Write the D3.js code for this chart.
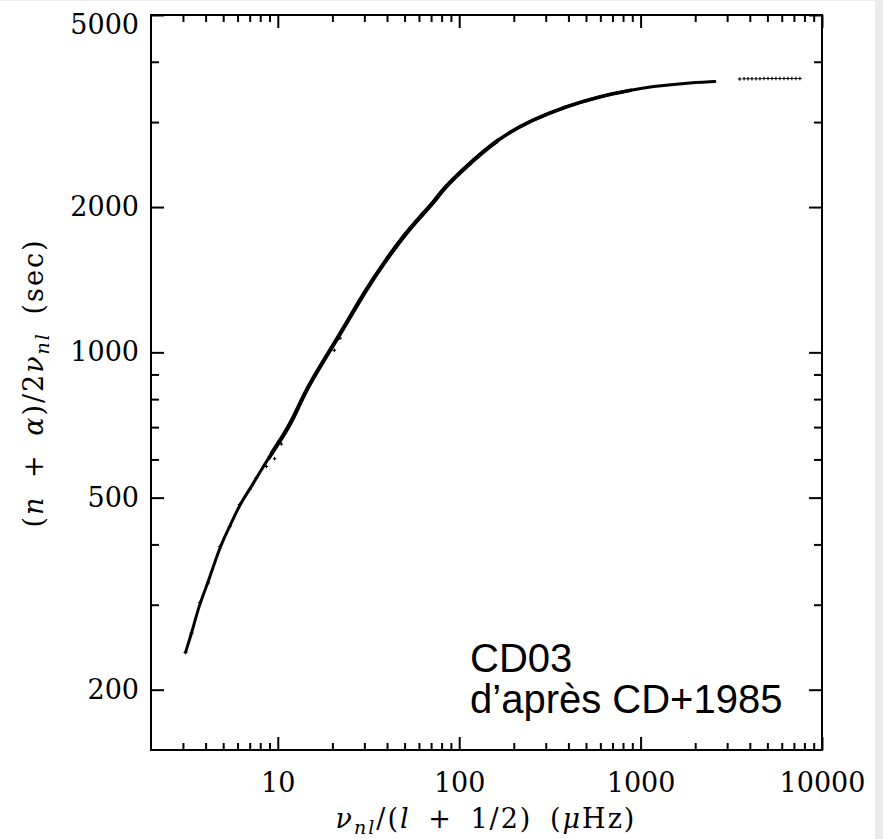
<!DOCTYPE html>
<html>
<head>
<meta charset="utf-8">
<script src="https://cdn.jsdelivr.net/npm/d3@7"></script>
<style>
  html, body { margin: 0; padding: 0; background: #ebebeb; }
  svg { display: block; }
</style>
</head>
<body>
<svg id="chart" width="883" height="839"></svg>
<script>
// ---- data ----
const curveX = [3.10, 3.35, 3.72, 4.13, 4.79, 5.44, 6.17, 7.00, 7.62, 9.01, 10.67, 12.1, 14.3, 18.5, 22.8, 30.6, 39.5, 50.8, 60.1, 74.3, 80.7, 109, 165, 252, 385, 586, 893, 1150, 1755, 2566];
const curveY = [239, 262, 303, 333, 396, 436, 484, 520, 549, 609, 670, 725, 837, 981, 1114, 1348, 1555, 1766, 1897, 2070, 2171, 2426, 2778, 3032, 3229, 3387, 3497, 3553, 3611, 3639];
const tailX = [3520, 3720, 3910, 4110, 4330, 4550, 4790, 5040, 5300, 5570, 5860, 6170, 6490, 6820, 7180, 7550];
const tailY = [3685, 3688, 3688, 3690, 3690, 3690, 3692, 3692, 3692, 3692, 3694, 3694, 3694, 3694, 3694, 3694];
const outlierX = [8.65, 9.60, 10.45, 20.5, 22.0];
const outlierY = [580, 602, 646, 1010, 1070];
const xMajorTicks = [10, 100, 1000, 10000];
const xMinorTicks = [3,4,5,6,7,8,9, 20,30,40,50,60,70,80,90, 200,300,400,500,600,700,800,900, 2000,3000,4000,5000,6000,7000,8000,9000];
const yMajorTicks = [200, 500, 1000, 2000, 5000];
const yMinorTicks = [300, 400, 600, 700, 800, 900, 3000, 4000];
const xDomain = [2, 10000];
const yDomain = [150, 5000];
const annotLines = ["CD03", "d\u2019après CD+1985"];

// ---- layout ----
const L = 151, R = 822, T = 15, B = 750;
const svg = d3.select("#chart");
svg.append("rect").attr("x", 0).attr("y", 1).attr("width", 875).attr("height", 838).attr("fill", "#ffffff");

const x = d3.scaleLog().domain(xDomain).range([L, R]);
const y = d3.scaleLog().domain(yDomain).range([B, T]);

const serif = "'DejaVu Serif', serif";
const fmt = d => String(d);

function styleAxis(g) {
  g.select(".domain").remove();
  g.selectAll(".tick line").attr("stroke", "#000").attr("stroke-width", 2);
  g.selectAll("text").attr("font-family", serif).attr("font-size", 27).attr("fill", "#000");
}

// bottom
svg.append("g").attr("transform", `translate(0,${B})`)
  .call(d3.axisBottom(x).tickValues(xMajorTicks).tickSize(-13).tickPadding(23).tickFormat(fmt))
  .call(styleAxis);
svg.append("g").attr("transform", `translate(0,${B})`)
  .call(d3.axisBottom(x).tickValues(xMinorTicks).tickSize(-7).tickFormat(""))
  .call(styleAxis);
// top
svg.append("g").attr("transform", `translate(0,${T})`)
  .call(d3.axisTop(x).tickValues(xMajorTicks).tickSize(-13).tickFormat(""))
  .call(styleAxis);
svg.append("g").attr("transform", `translate(0,${T})`)
  .call(d3.axisTop(x).tickValues(xMinorTicks).tickSize(-7).tickFormat(""))
  .call(styleAxis);
// left
const leftG = svg.append("g").attr("transform", `translate(${L},0)`)
  .call(d3.axisLeft(y).tickValues(yMajorTicks).tickSize(-13).tickPadding(12).tickFormat(fmt))
  .call(styleAxis);
leftG.selectAll(".tick text").filter(d => d === 5000).attr("y", 10);
svg.append("g").attr("transform", `translate(${L},0)`)
  .call(d3.axisLeft(y).tickValues(yMinorTicks).tickSize(-8).tickFormat(""))
  .call(styleAxis);
// right
svg.append("g").attr("transform", `translate(${R},0)`)
  .call(d3.axisRight(y).tickValues(yMajorTicks).tickSize(-13).tickFormat(""))
  .call(styleAxis);
svg.append("g").attr("transform", `translate(${R},0)`)
  .call(d3.axisRight(y).tickValues(yMinorTicks).tickSize(-8).tickFormat(""))
  .call(styleAxis);

// frame
svg.append("rect").attr("x", L).attr("y", T).attr("width", R - L).attr("height", B - T)
  .attr("fill", "none").attr("stroke", "#000").attr("stroke-width", 2);

// ---- data ----
const curve = curveX.map((v, i) => [v, curveY[i]]);
const line = d3.line().x(d => x(d[0])).y(d => y(d[1])).curve(d3.curveBasis);
const lineFull = line(curve);
function seg(a, b, w) {
  // draw a thicker overlay on a sub-range by clipping the full smoothed path
  const id = "clip" + a + "_" + b;
  svg.append("clipPath").attr("id", id).append("rect")
    .attr("x", x(curveX[a])).attr("y", 0)
    .attr("width", x(curveX[b]) - x(curveX[a])).attr("height", 839);
  svg.append("path").attr("d", lineFull).attr("clip-path", `url(#${id})`)
    .attr("fill", "none").attr("stroke", "#000").attr("stroke-width", w);
}
svg.append("path").attr("d", lineFull)
  .attr("fill", "none").attr("stroke", "#000").attr("stroke-width", 3.0).attr("stroke-linecap", "round");
seg(9, 22, 4.2);
seg(16, 26, 3.6);

function crosses(xs, ys, s, w) {
  svg.append("g").selectAll("path").data(xs.map((v, i) => [v, ys[i]])).join("path")
    .attr("d", d => {
      const px = x(d[0]), py = y(d[1]);
      return `M${px - s},${py}H${px + s}M${px},${py - s}V${py + s}`;
    })
    .attr("stroke", "#000").attr("stroke-width", w).attr("fill", "none");
}
crosses(tailX, tailY, 1.8, 1.1);
crosses(outlierX, outlierY, 1.8, 1.1);
crosses(curveX.slice(0, 10), curveY.slice(0, 10), 2, 1);

// ---- axis titles ----
const yt = svg.append("text")
  .attr("transform", "translate(43,383) rotate(-90)")
  .attr("text-anchor", "middle")
  .attr("font-family", serif).attr("font-size", 27).attr("fill", "#000")
  .attr("word-spacing", 7).attr("letter-spacing", 2);
yt.append("tspan").text("(");
yt.append("tspan").attr("font-style", "italic").text("n");
yt.append("tspan").text(" + ");
yt.append("tspan").attr("font-style", "italic").text("α");
yt.append("tspan").text(")/2");
yt.append("tspan").attr("font-style", "italic").text("ν");
yt.append("tspan").attr("font-style", "italic").attr("font-size", 19).attr("dy", 6).text("nl");
yt.append("tspan").attr("dy", -6).text(" (sec)");

const xt = svg.append("text")
  .attr("x", 486).attr("y", 828)
  .attr("text-anchor", "middle")
  .attr("font-family", serif).attr("font-size", 27).attr("fill", "#000")
  .attr("word-spacing", 7).attr("letter-spacing", 2);
xt.append("tspan").attr("font-style", "italic").text("ν");
xt.append("tspan").attr("font-style", "italic").attr("font-size", 19).attr("dy", 6).text("nl");
xt.append("tspan").attr("dy", -6).text("/(");
xt.append("tspan").attr("font-style", "italic").text("l");
xt.append("tspan").text(" + 1/2) (");
xt.append("tspan").attr("font-style", "italic").text("μ");
xt.append("tspan").text("Hz)");

// ---- annotation ----
svg.append("g").selectAll("text").data(annotLines).join("text")
  .attr("x", 470).attr("y", (d, i) => 672 + i * 41)
  .attr("font-family", "'Liberation Sans', Arial, sans-serif").attr("font-size", 40).attr("fill", "#000")
  .text(d => d);
</script>
</body>
</html>
